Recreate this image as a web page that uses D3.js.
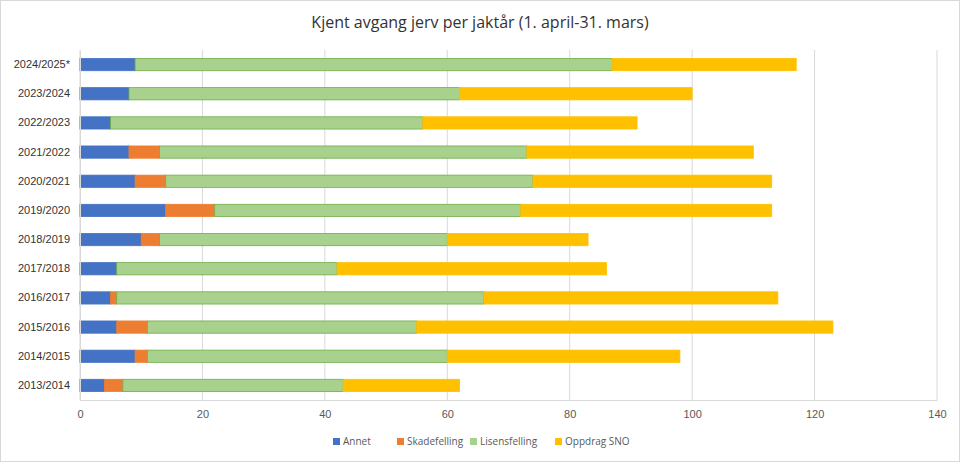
<!DOCTYPE html>
<html><head><meta charset="utf-8">
<script src="https://cdn.jsdelivr.net/npm/d3@7"></script>
<style>body{margin:0;background:#fff;font-family:"Open Sans",Calibri,sans-serif}</style>
</head><body><svg id="c" width="960" height="462"></svg>
<script>
const categories=["2024/2025*","2023/2024","2022/2023","2021/2022","2020/2021","2019/2020","2018/2019","2017/2018","2016/2017","2015/2016","2014/2015","2013/2014"];
const seriesNames=["Annet","Skadefelling","Lisensfelling","Oppdrag SNO"];
const annet=[9,8,5,8,9,14,10,6,5,6,9,4];
const skade=[0,0,0,5,5,8,3,0,1,5,2,3];
const lisens=[78,54,51,60,60,50,47,36,60,44,49,36];
const sno=[30,38,35,37,39,41,23,44,48,68,38,19];
const xTicks=[0,20,40,60,80,100,120,140];
const colors=["#4472C4","#ED7D31","#A9D18E","#FFC000"];
const strokes=["#4472C4","#ED7D31","#70AD47","#FFC000"];
const svg=d3.select("#c");
svg.append("rect").attr("x",0.5).attr("y",0.5).attr("width",959).attr("height",461).attr("fill","#fff").attr("stroke","#d9d9d9");
svg.append("text").attr("x",480).attr("y",28).attr("text-anchor","middle").attr("font-size",16).attr("fill","#333").text("Kjent avgang jerv per jaktår (1. april-31. mars)");
const x=d3.scaleLinear().domain([0,140]).range([80,937]);
const y=d3.scaleBand().domain(categories).range([50,400]).paddingInner(0.58).paddingOuter(0.29);
const g=svg.append("g");
g.selectAll("line.grid").data(xTicks).join("line").attr("x1",d=>x(d)).attr("x2",d=>x(d)).attr("y1",50).attr("y2",400).attr("stroke","#d9d9d9");
const data=categories.map((c,i)=>({cat:c,Annet:annet[i],Skadefelling:skade[i],Lisensfelling:lisens[i],"Oppdrag SNO":sno[i]}));
const stack=d3.stack().keys(seriesNames)(data);
stack.forEach((s,k)=>{
  g.selectAll(null).data(s).join("rect").attr("x",d=>x(d[0])).attr("width",d=>x(d[1])-x(d[0]))
   .attr("y",d=>y(d.data.cat)).attr("height",y.bandwidth()).attr("fill",colors[k])
   .attr("stroke",d=>d[1]>d[0]?strokes[k]:"none").attr("stroke-width",0.8);
});
const ax=svg.append("g").attr("transform","translate(0,400)").call(d3.axisBottom(x).tickValues(xTicks).tickSize(0).tickPadding(10));
ax.select(".domain").attr("stroke","#d9d9d9");
ax.selectAll("text").attr("font-size",11).attr("fill","#595959");
const ay=svg.append("g").attr("transform","translate(80,0)").call(d3.axisLeft(y).tickSize(0).tickPadding(10));
ay.select(".domain").attr("stroke","#d9d9d9");
ay.selectAll("text").attr("font-size",11).attr("fill","#333");
const lx=[333,397,470,555];
const leg=svg.append("g");
seriesNames.forEach((n,i)=>{
  leg.append("rect").attr("x",lx[i]).attr("y",438).attr("width",7).attr("height",7).attr("fill",colors[i]);
  leg.append("text").attr("x",lx[i]+10).attr("y",445).attr("font-size",10).attr("fill","#595959").text(n);
});
</script></body></html>
